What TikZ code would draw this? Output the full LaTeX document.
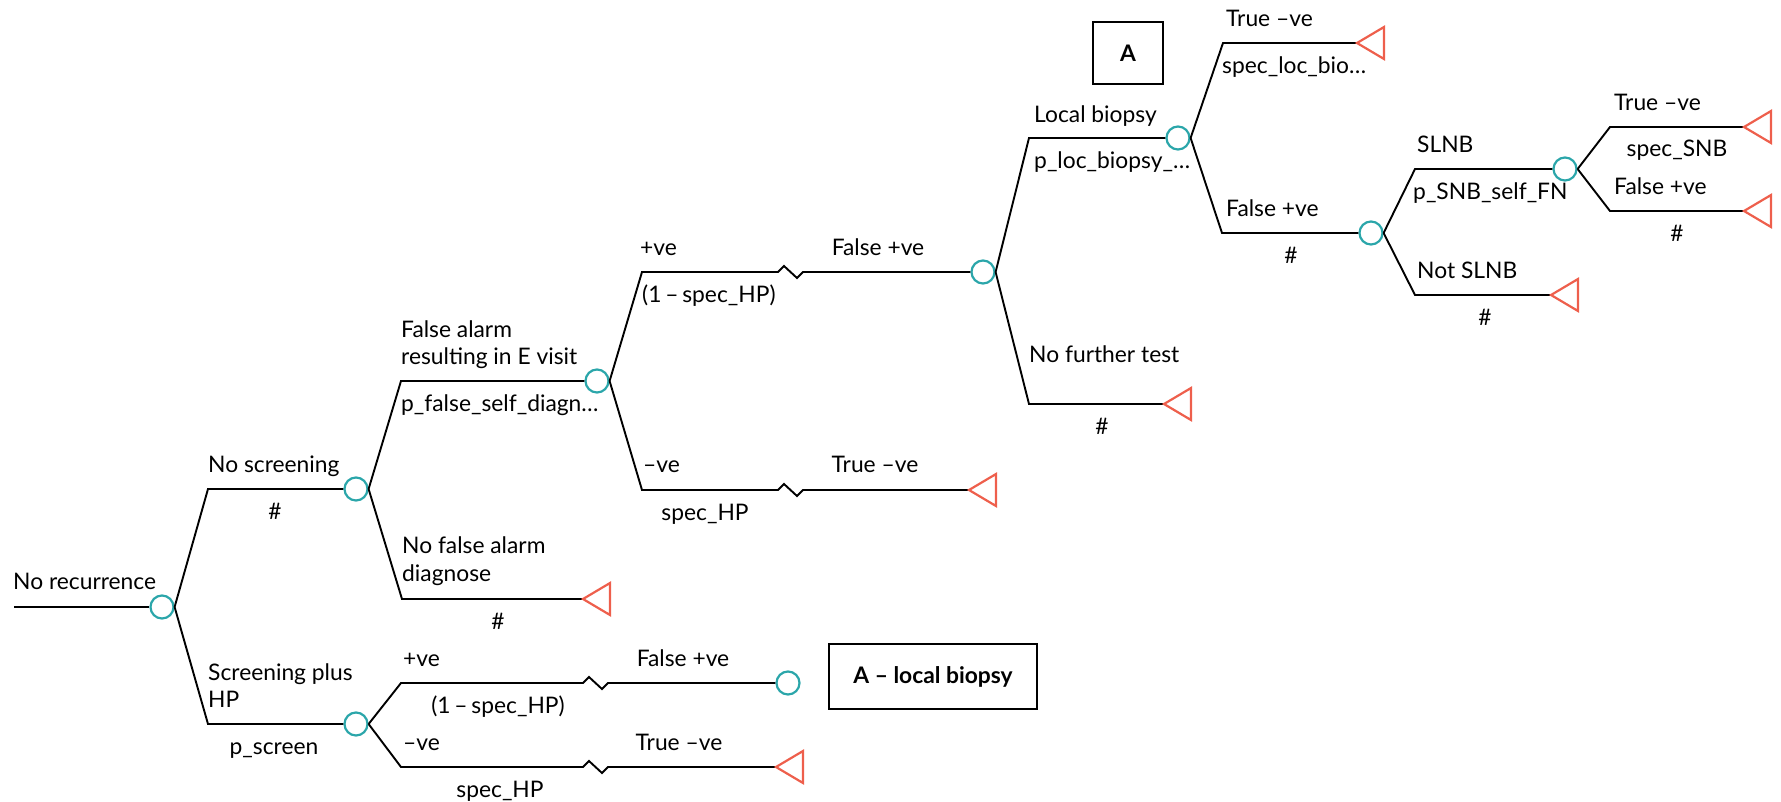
\documentclass[tikz,border=0pt]{standalone}
\usepackage{fontspec}
\setmainfont{Lato}
\definecolor{chancecol}{HTML}{2BA6AA}
\definecolor{termcol}{HTML}{EE5F4C}
\begin{document}
\begin{tikzpicture}[x=1pt,y=-1pt,
  branch/.style={line width=1.9pt, line join=miter},
  chance/.style={circle, draw=chancecol, line width=2.2pt, minimum size=23pt, inner sep=0pt},
  term/.style={draw=termcol, line width=2.2pt, line join=miter},
  lbl/.style={anchor=base west, inner sep=0pt, font=\fontsize{22.8}{27}\selectfont},
  lblc/.style={lbl, anchor=base},
  boxlabel/.style={draw, line width=1.9pt, inner sep=0pt, font=\fontsize{22.8}{27}\selectfont\bfseries}]
\useasboundingbox (0,0) rectangle (1781,801);

% ---- chance nodes ----
\node[chance] (c0)  at (162,607) {};
\node[chance] (c1)  at (356,489) {};
\node[chance] (c2)  at (356,724) {};
\node[chance] (c3)  at (597,381) {};
\node[chance] (c5)  at (983,272) {};
\node[chance] (c7)  at (1178,138) {};
\node[chance] (c10) at (1371,233) {};
\node[chance] (c11) at (1565,169) {};
\node[chance] (c15) at (788,683) {};

% ---- branch corners, zigzag starts and terminal tips ----
\coordinate (r0)  at (14,607);
\coordinate (k1)  at (208,489);
\coordinate (k2)  at (208,724);
\coordinate (k3)  at (401,381);
\coordinate (k4)  at (402,599);   \coordinate (t4)  at (583,599);
\coordinate (k5)  at (642,272);   \coordinate (z5)  at (778,272);
\coordinate (k6)  at (642,490);   \coordinate (z6)  at (778,490);  \coordinate (t6) at (969,490);
\coordinate (k7)  at (1029,138);
\coordinate (k8)  at (1029,404);  \coordinate (t8)  at (1164,404);
\coordinate (k9)  at (1223,43);   \coordinate (t9)  at (1357,43);
\coordinate (k10) at (1222,233);
\coordinate (k11) at (1415,169);
\coordinate (k12) at (1415,295);  \coordinate (t12) at (1551,295);
\coordinate (k13) at (1610,127);  \coordinate (t13) at (1744,127);
\coordinate (k14) at (1610,211);  \coordinate (t14) at (1744,211);
\coordinate (k15) at (401,683);   \coordinate (z15) at (583,683);
\coordinate (k16) at (401,767);   \coordinate (z16) at (583,767);  \coordinate (t16) at (776,767);

% ---- branches ----
\draw[branch] (r0) -- (c0.west);
\draw[branch] (c0.east) -- (k1) -- (c1.west);
\draw[branch] (c0.east) -- (k2) -- (c2.west);
\draw[branch] (c1.east) -- (k3) -- (c3.west);
\draw[branch] (c1.east) -- (k4) -- (t4);
\draw[branch] (c3.east) -- (k5) -- (z5) -- ++(6,-6) -- ++(13,12) -- ++(6,-6) -- (c5.west);
\draw[branch] (c3.east) -- (k6) -- (z6) -- ++(6,-6) -- ++(13,12) -- ++(6,-6) -- (t6);
\draw[branch] (c5.east) -- (k7) -- (c7.west);
\draw[branch] (c5.east) -- (k8) -- (t8);
\draw[branch] (c7.east) -- (k9) -- (t9);
\draw[branch] (c7.east) -- (k10) -- (c10.west);
\draw[branch] (c10.east) -- (k11) -- (c11.west);
\draw[branch] (c10.east) -- (k12) -- (t12);
\draw[branch] (c11.east) -- (k13) -- (t13);
\draw[branch] (c11.east) -- (k14) -- (t14);
\draw[branch] (c2.east) -- (k15) -- (z15) -- ++(6,-6) -- ++(13,12) -- ++(6,-6) -- (c15.west);
\draw[branch] (c2.east) -- (k16) -- (z16) -- ++(6,-6) -- ++(13,12) -- ++(6,-6) -- (t16);

% ---- terminal triangles ----
\foreach \t in {t4,t6,t8,t9,t12,t13,t14,t16}
  \draw[term] (\t) -- ++(27,-16) -- ++(0,32) -- cycle;

% ---- labels ----
\node[lbl]  (l0)   at (13,589)   {No recurrence};
\node[lbl]  (l1)   at (208,472)  {No screening};
\node[lblc] (p1)   at (275,519)  {\#};
\node[lbl]  (l2a)  at (208,680)  {Screening plus};
\node[lbl]  (l2b)  at (208,707)  {HP};
\node[lblc] (p2)   at (274,754)  {p\_screen};
\node[lbl]  (l3a)  at (401,337)  {False alarm};
\node[lbl]  (l3b)  at (401,364)  {resulting in E visit};
\node[lbl]  (p3)   at (401,411)  {p\_false\_self\_diagn…};
\node[lbl]  (l4a)  at (402,553)  {No false alarm};
\node[lbl]  (l4b)  at (402,581)  {diagnose};
\node[lblc] (p4)   at (498,629)  {\#};
\node[lbl]  (l5)   at (640,255)  {+ve};
\node[lblc] (l5b)  at (878,255)  {False +ve};
\node[lbl]  (p5)   at (642,302)  {(1\,–\,spec\_HP)};
\node[lbl]  (l6)   at (643,472)  {–ve};
\node[lblc] (l6b)  at (875,472)  {True –ve};
\node[lblc] (p6)   at (705,520)  {spec\_HP};
\node[lbl]  (l7)   at (1034,122) {Local biopsy};
\node[lbl]  (p7)   at (1034,168) {p\_loc\_biopsy\_…};
\node[lbl]  (l8)   at (1029,362) {No further test};
\node[lblc] (p8)   at (1102,434) {\#};
\node[lbl]  (l9)   at (1226,26)  {True –ve};
\node[lbl]  (p9)   at (1222,73)  {spec\_loc\_bio…};
\node[lbl]  (l10)  at (1226,216) {False +ve};
\node[lblc] (p10)  at (1291,263) {\#};
\node[lbl]  (l11)  at (1417,152) {SLNB};
\node[lbl]  (p11)  at (1413,199) {p\_SNB\_self\_FN};
\node[lbl]  (l12)  at (1417,278) {Not SLNB};
\node[lblc] (p12)  at (1485,325) {\#};
\node[lbl]  (l13)  at (1614,110) {True –ve};
\node[lblc] (p13)  at (1677,156) {spec\_SNB};
\node[lbl]  (l14)  at (1614,194) {False +ve};
\node[lblc] (p14)  at (1677,241) {\#};
\node[lbl]  (l15)  at (403,666)  {+ve};
\node[lblc] (l15b) at (683,666)  {False +ve};
\node[lblc] (p15)  at (498,713)  {(1\,–\,spec\_HP)};
\node[lbl]  (l16)  at (403,750)  {–ve};
\node[lblc] (l16b) at (679,750)  {True –ve};
\node[lblc] (p16)  at (500,797)  {spec\_HP};

% ---- subtree markers ----
\node[boxlabel, minimum width=70pt, minimum height=62pt]  (boxA)  at (1128,53)    {A};
\node[boxlabel, minimum width=208pt, minimum height=65pt] (boxAL) at (933,676.5)  {A – local biopsy};
\end{tikzpicture}
\end{document}
